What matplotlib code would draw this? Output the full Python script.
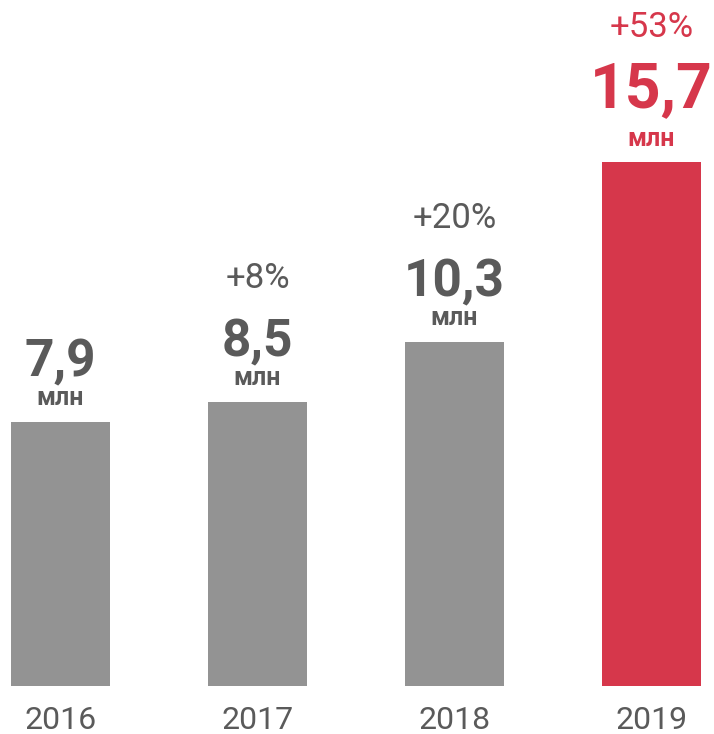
import numpy as np
import matplotlib.pyplot as plt

# Data
years = ['2016', '2017', '2018', '2019']
values = [7.9, 8.5, 10.3, 15.7]
growth = ['', '+8%', '+20%', '+53%']

GRAY = '#939393'
RED = '#d6374b'
TEXT = '#5a5a5a'
FONT = 'Roboto'

fig = plt.figure(figsize=(7.14, 7.34), dpi=100)
ax = fig.add_axes([0, 48 / 734, 1, 686 / 734])

x = np.arange(len(years))
colors = [GRAY, GRAY, GRAY, RED]
ax.bar(x, values, width=0.5025, color=colors)

ax.set_xlim(-0.307, 3.317)
ax.set_ylim(0, 686 / 33.4)
ax.axis('off')

for i, (v, g) in enumerate(zip(values, growth)):
    last = i == len(values) - 1
    c = RED if last else TEXT
    big = 45 if last else 37
    off_unit, off_val, off_pct = (11, 39, 90) if last else (12, 33, 82)
    ax.annotate('млн', (i, v), xytext=(0, off_unit), textcoords='offset points',
                ha='center', va='baseline', fontsize=18, fontweight='bold',
                color=c, family=FONT)
    ax.annotate(f'{v:.1f}'.replace('.', ','), (i, v), xytext=(0, off_val),
                textcoords='offset points', ha='center', va='baseline',
                fontsize=big, fontweight='bold', color=c, family=FONT)
    if g:
        ax.annotate(g, (i, v), xytext=(0, off_pct), textcoords='offset points',
                    ha='center', va='baseline', fontsize=25, color=c, family=FONT)
    ax.annotate(years[i], (i, 0), xytext=(0, -31), textcoords='offset points',
                ha='center', va='baseline', fontsize=23, color=TEXT, family=FONT)

fig.savefig('out.png', dpi=100)
